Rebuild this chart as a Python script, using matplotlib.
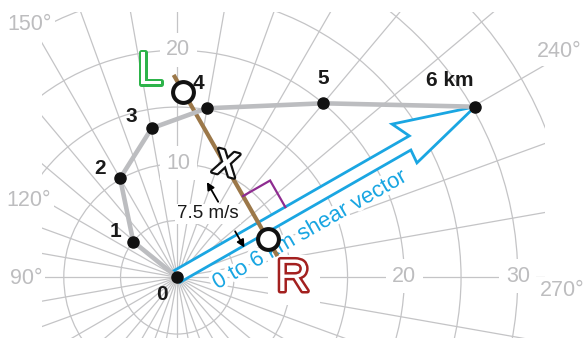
import numpy as np
import matplotlib
matplotlib.use("Agg")
import matplotlib.pyplot as plt
from matplotlib.patches import Circle, Rectangle, Polygon
import matplotlib.patheffects as pe

plt.rcParams["font.family"] = ["Liberation Sans", "DejaVu Sans"]

# Hodograph: wind components (m/s) at 0..6 km
height_labels = ["0", "1", "2", "3", "4", "5", "6 km"]
u_wind = [0.0, -3.88, -5.04, -2.26, 2.59, 12.86, 26.23]
v_wind = [0.0, 3.14, 8.72, 13.13, 14.89, 15.33, 15.03]

# 0-6 km mean wind and Bunkers deviation
mean_wind = (4.25, 9.85)
deviation = 7.5  # m/s
deviation_label = "7.5 m/s"
shear_label = "0 to 6 km shear vector"

# Polar grid
ring_speeds = [5, 10, 15, 20, 25, 30, 35]
grid_directions = list(range(0, 360, 10))
north_speed_labels = [10, 20]
east_speed_labels = [20, 30]
direction_labels = ["90°", "120°", "150°", "240°", "270°"]

# ---------------------------------------------------------------- styling
GRID = "#C4C4C6"
LABEL_GREY = "#BDBDBF"
HODO = "#BCBDC0"
BLUE = "#1AA6E2"
BROWN = "#9C7849"
PURPLE = "#8E2C90"
GREEN = "#2DB34A"
RED = "#A3201F"

PX = 11.35                     # pixels per m/s
ORIGIN_PX = (177.3, 277.3)
W, H = 587, 344

fig = plt.figure(figsize=(W / 100, H / 100), dpi=100)
ax = fig.add_axes([0, 0, 1, 1])
ax.set_xlim(-ORIGIN_PX[0] / PX, (W - ORIGIN_PX[0]) / PX)
ax.set_ylim(-(H - ORIGIN_PX[1]) / PX, ORIGIN_PX[1] / PX)
ax.set_aspect("equal")
ax.axis("off")


def px2data(x, y):
    return ((x - ORIGIN_PX[0]) / PX, (ORIGIN_PX[1] - y) / PX)


# grid is confined to a rectangle
gx0, gy1 = px2data(42, 12)
gx1, gy0 = px2data(545, 338)
clip = Rectangle((gx0, gy0), gx1 - gx0, gy1 - gy0, transform=ax.transData)

for ang in grid_directions:
    th = np.deg2rad(ang)
    ln, = ax.plot([0, -60 * np.sin(th)], [0, -60 * np.cos(th)],
                  color=GRID, lw=0.9, zorder=1, solid_capstyle="butt")
    ln.set_clip_path(clip)
for r in ring_speeds:
    c = Circle((0, 0), r, fill=False, edgecolor=GRID, lw=0.9, zorder=1)
    ax.add_patch(c)
    c.set_clip_path(clip)

# speed labels along the north and east lines
lab_kw = dict(fontsize=15.5, color=LABEL_GREY, ha="center", va="center",
              zorder=2, bbox=dict(boxstyle="square,pad=0.3", fc="white", ec="none"))
for s in north_speed_labels:
    ax.text(0.1, s + 0.05, str(s), **lab_kw)
for s in east_speed_labels:
    ax.text(s, 0.1, str(s), **lab_kw)

# direction labels
dir_pos_px = [(26, 279), (29, 200), (30, 24), (559, 52), (562, 291)]
for txt, (x, y) in zip(direction_labels, dir_pos_px):
    ax.text(*px2data(x, y), txt, fontsize=15.5, color=LABEL_GREY,
            ha="center", va="center", zorder=2,
            bbox=dict(boxstyle="square,pad=0.15", fc="white", ec="none"))

# ---------------------------------------------------------------- shear vector arrow
tip = np.array([u_wind[-1] - u_wind[0], v_wind[-1] - v_wind[0]])
length = np.hypot(*tip)
d = tip / length
q = np.array([-d[1], d[0]])          # left-hand normal
p = -q                               # right-hand normal (toward R)


def ap(a, b):
    return a * d + b * q


arrow_pts = [ap(0.0, -0.5), ap(length - 6.8, -0.5), ap(length - 6.9, -1.75),
             ap(length, 0.0), ap(length - 7.1, 2.3), ap(length - 6.3, 0.65),
             ap(0.0, 0.65)]
ax.add_patch(Polygon(arrow_pts, closed=True, fc="white", ec=BLUE, lw=2.0,
                     joinstyle="miter", zorder=3))

shear_ang = np.degrees(np.arctan2(tip[1], tip[0]))
ax.text(*ap(12.2, -2.2), shear_label, rotation=shear_ang, rotation_mode="anchor",
        ha="center", va="center", fontsize=16, color=BLUE, zorder=3.5,
        path_effects=[pe.withStroke(linewidth=5, foreground="white")])

# ---------------------------------------------------------------- Bunkers storm motion
M = np.array(mean_wind)
R = M + deviation * p
L = M - deviation * p
ext = 9.2
b0, b1 = M - ext * p, M + ext * p
ax.plot([b0[0], b1[0]], [b0[1], b1[1]], color=BROWN, lw=3.0, zorder=4,
        solid_capstyle="butt")

# right-angle marker
B = M + 3.1 * p
C = B + 2.75 * d
E = C + 2.7 * p
ax.plot([B[0], C[0], E[0]], [B[1], C[1], E[1]], color=PURPLE, lw=1.6, zorder=4,
        solid_joinstyle="miter")

# deviation arrows and label
off = -2.15
for s0, s1 in [(2.45, 0.45), (5.45, 7.1)]:
    a0 = M + s0 * p + off * d
    a1 = M + s1 * p + off * d
    ax.annotate("", xy=a1, xytext=a0, zorder=4,
                arrowprops=dict(arrowstyle="-|>", color="black", lw=1.3,
                                mutation_scale=11, shrinkA=0, shrinkB=0))
ax.text(*px2data(208, 214), deviation_label, fontsize=13.5, color="#1a1a1a",
        ha="center", va="center", zorder=4.5,
        bbox=dict(boxstyle="square,pad=0.1", fc="white", ec="none"))

# ---------------------------------------------------------------- hodograph
ax.plot(u_wind, v_wind, color=HODO, lw=3.3, zorder=5, solid_joinstyle="round")
ax.plot(u_wind, v_wind, "o", color="#111111", ms=8, zorder=6)
lab_off = [(-11.2, -12.7), (-13, 7.2), (-14.4, 7.2), (-14.4, 8.4),
           (-5.8, 18), (0, 18), (-18, 18.7)]
for txt, x, y, o in zip(height_labels, u_wind, v_wind, lab_off):
    ax.annotate(txt, (x, y), xytext=o, textcoords="offset points",
                ha="center", va="center", fontsize=15, fontweight="bold",
                color="#1a1a1a", zorder=6)

# storm motion circles
for pt in (L, R):
    ax.plot(pt[0], pt[1], "o", ms=15, mfc="white", mec="#111111", mew=2.9, zorder=7)

# mean wind marker
ax.text(M[0], M[1], "X", fontsize=25, fontweight="bold", color="white",
        ha="center", va="center", rotation=-15, zorder=8,
        path_effects=[pe.withStroke(linewidth=3.2, foreground="#111111")])

# L / R letters
rx0, ry1 = px2data(268, 255)
rx1, ry0 = px2data(320, 305)
ax.add_patch(Rectangle((rx0, ry0), rx1 - rx0, ry1 - ry0, fc="white", ec="none", zorder=2))
ax.text(*px2data(293, 279), "R", fontsize=33, color="white", ha="center",
        va="center", zorder=8,
        path_effects=[pe.withStroke(linewidth=3.6, foreground=RED)])
ax.text(*px2data(150, 72), "L", fontsize=33, color="white", ha="center",
        va="center", zorder=8,
        path_effects=[pe.withStroke(linewidth=3.6, foreground=GREEN)])

fig.savefig("out.png", dpi=100, facecolor="white")
